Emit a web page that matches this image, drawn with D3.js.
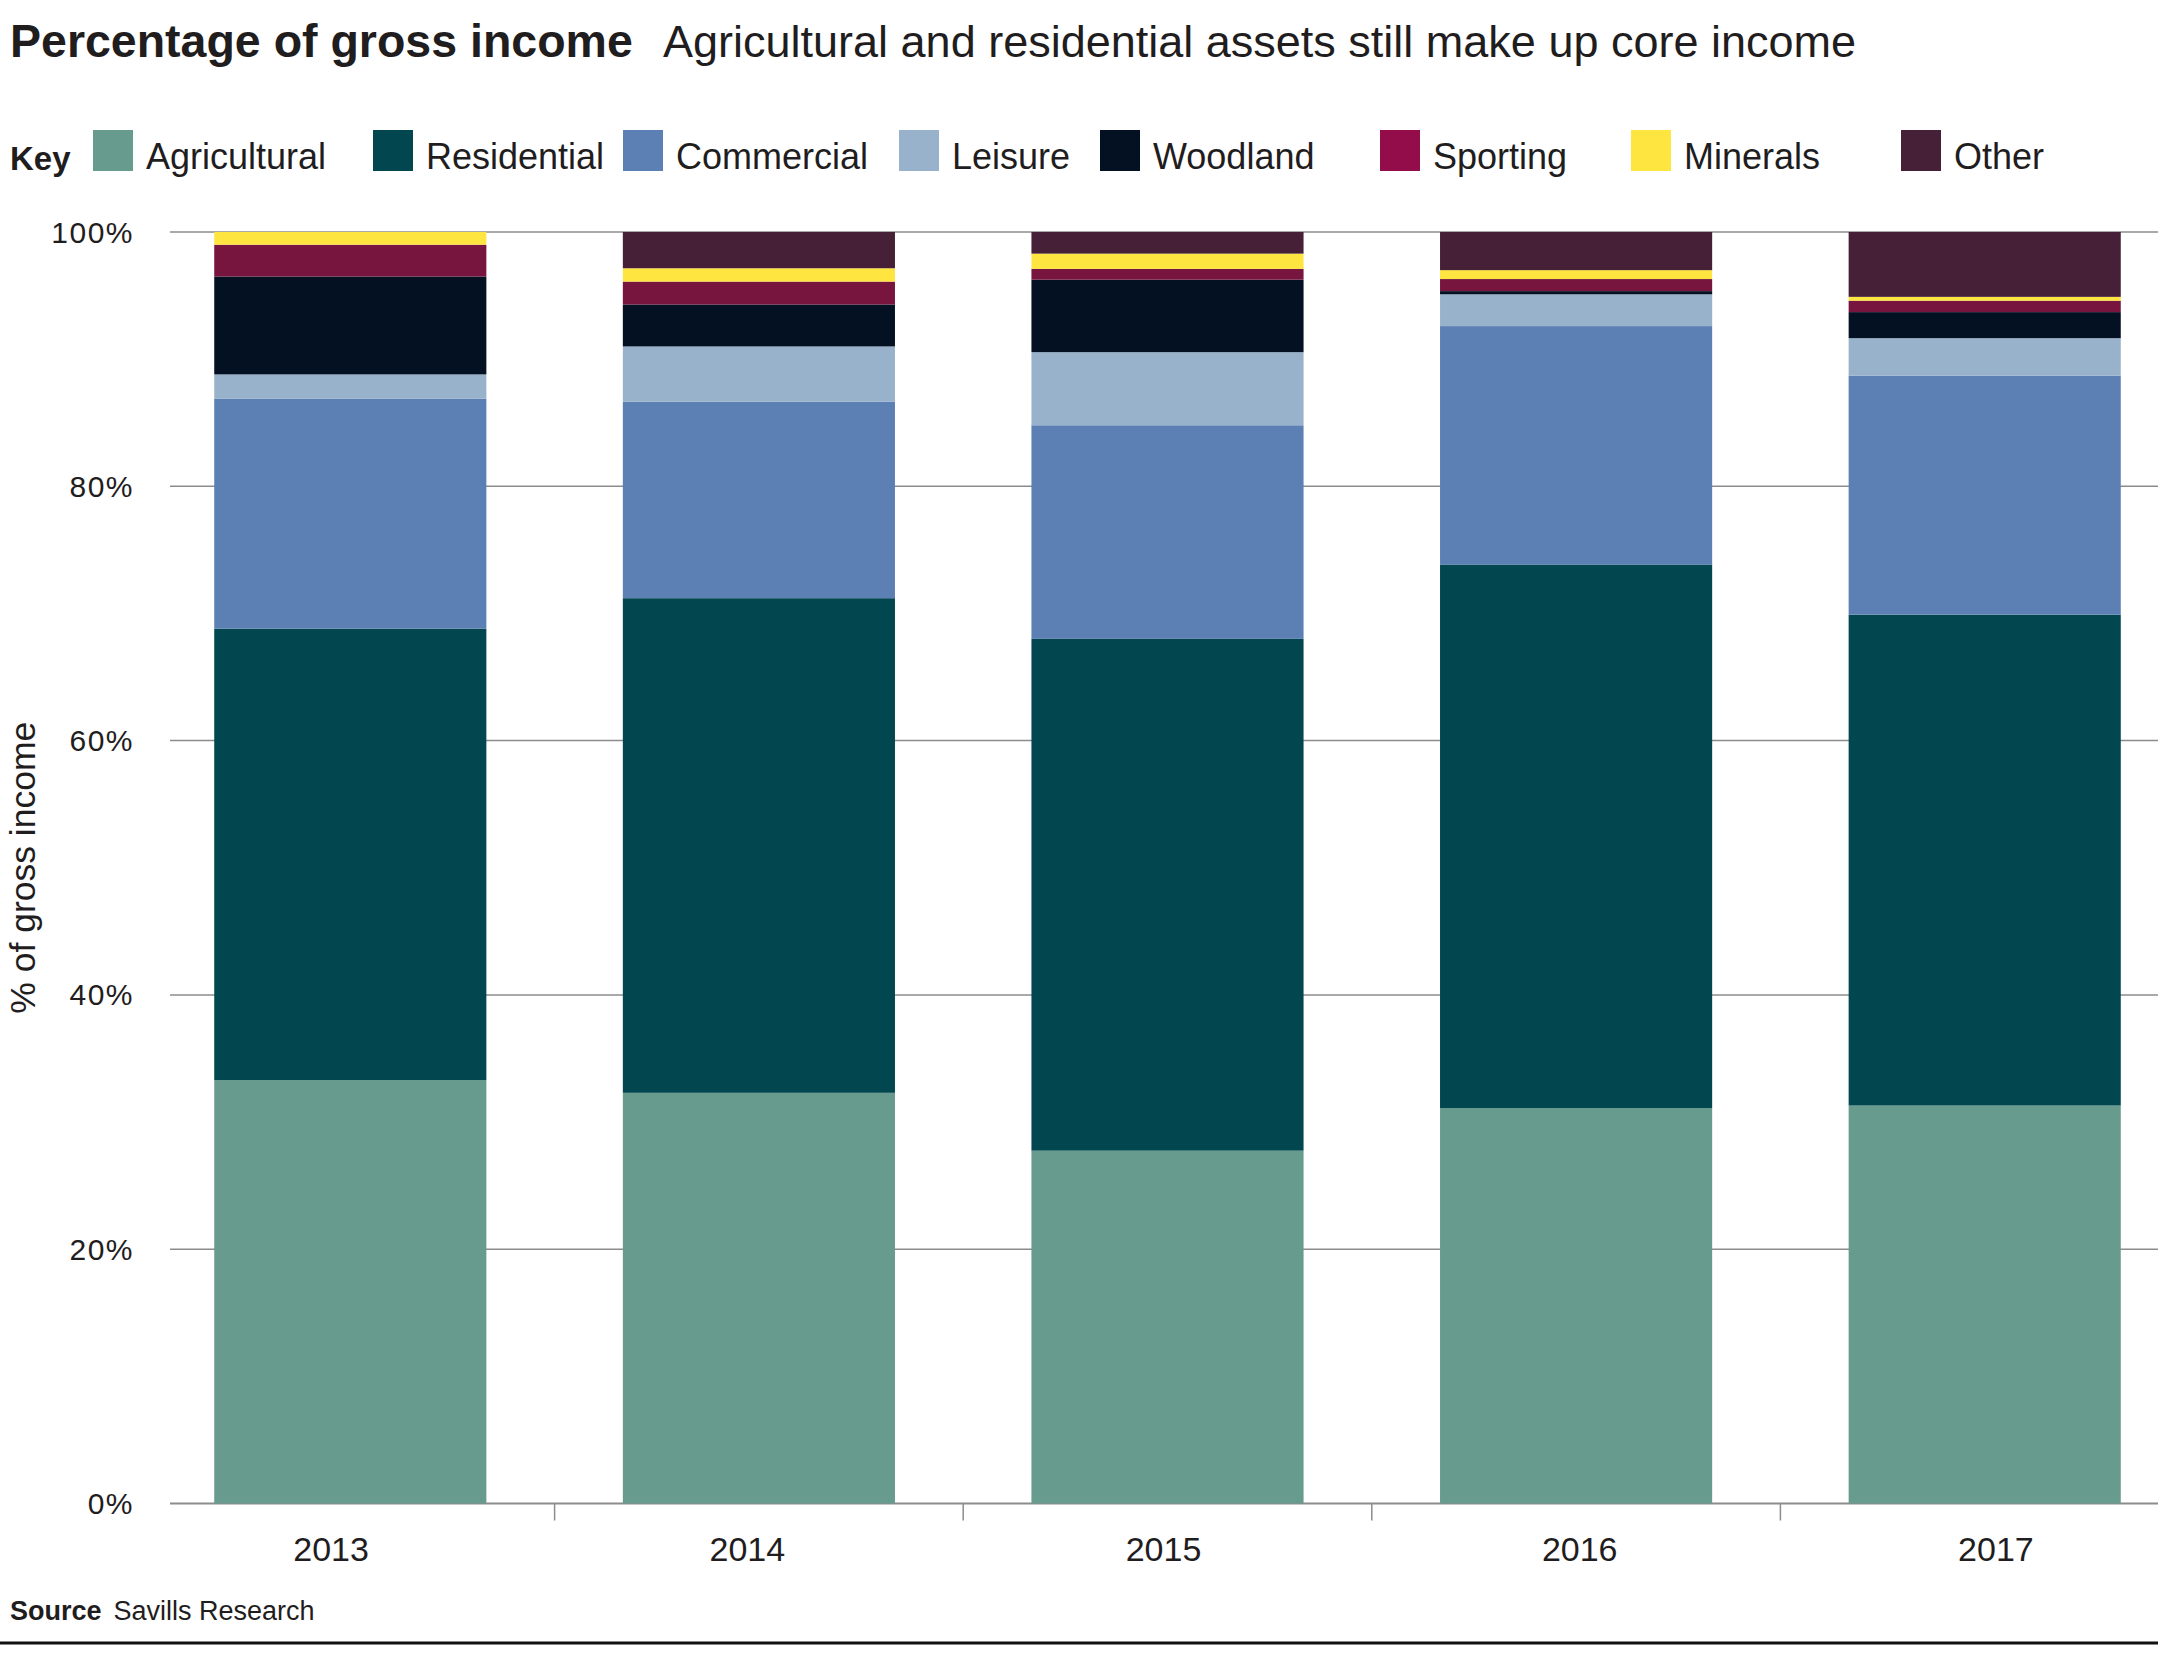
<!DOCTYPE html>
<html>
<head>
<meta charset="utf-8">
<script src="https://cdnjs.cloudflare.com/ajax/libs/d3/7.8.5/d3.min.js"></script>
<style>
  html, body { margin: 0; padding: 0; background: #ffffff; }
  svg { display: block; font-family: "Liberation Sans", Arial, Helvetica, sans-serif; }
</style>
</head>
<body>
<svg id="chart" width="2183" height="1659"></svg>
<script>
// ---------- data ----------
const years = ["2013", "2014", "2015", "2016", "2017"];
const seriesNames = ["Agricultural", "Residential", "Commercial", "Leisure", "Woodland", "Sporting", "Minerals", "Other"];
const agricultural = [33.3, 32.3, 27.75, 31.1, 31.3];
const residential  = [35.5, 38.9, 40.25, 42.75, 38.6];
const commercial   = [18.1, 15.45, 16.8, 18.75, 18.8];
const leisure      = [1.9, 4.35, 5.75, 2.5, 2.95];
const woodland     = [7.7, 3.3, 5.7, 0.25, 2.05];
const sporting     = [2.5, 1.8, 0.85, 0.95, 0.9];
const minerals     = [1.0, 1.05, 1.2, 0.7, 0.3];
const other        = [0.0, 2.85, 1.7, 3.0, 5.1];
const yTicks = [0, 20, 40, 60, 80, 100];
const colors = ["#679b8d", "#02474f", "#5c80b3", "#99b2cb", "#041122", "#78153f", "#fee540", "#462036"];
const legendColors = ["#679b8d", "#02474f", "#5c80b3", "#99b2cb", "#041122", "#930d4a", "#fee540", "#462036"];

const seriesValues = [agricultural, residential, commercial, leisure, woodland, sporting, minerals, other];
const table = years.map((y, i) => {
  const row = { year: y };
  seriesNames.forEach((n, j) => { row[n] = seriesValues[j][i]; });
  return row;
});

// ---------- layout ----------
const svg = d3.select("#chart");
const textColor = "#1f1d1e";
const plotLeft = 170, plotRight = 2158, plotTop = 232, plotBottom = 1503.5;

const x = d3.scaleBand().domain(years).range([146, 2189]).paddingInner(0.334).paddingOuter(0.167);
const xLabel = d3.scaleBand().domain(years).range([123, 2204]);
const y = d3.scaleLinear().domain([0, 100]).range([plotBottom, plotTop]);
const color = d3.scaleOrdinal().domain(seriesNames).range(colors);

svg.append("rect").attr("width", 2183).attr("height", 1659).attr("fill", "#fff");

// title
const title = svg.append("text").attr("x", 10).attr("y", 57).attr("fill", textColor);
title.append("tspan").attr("font-weight", "bold").attr("font-size", 46.5).text("Percentage of gross income");
title.append("tspan").attr("x", 663).attr("font-size", 45).attr("font-weight", 300).text("Agricultural and residential assets still make up core income");

// legend
svg.append("text").attr("x", 10).attr("y", 170).attr("font-size", 33).attr("font-weight", "bold").attr("fill", textColor).text("Key");
const legendX = [93, 373, 623, 899, 1100, 1380, 1631, 1901];
const lg = svg.append("g");
seriesNames.forEach((n, i) => {
  lg.append("rect").attr("x", legendX[i]).attr("y", 130).attr("width", 40).attr("height", 41).attr("fill", legendColors[i]);
  lg.append("text").attr("x", legendX[i] + 53).attr("y", 169).attr("font-size", 36).attr("fill", textColor).text(n);
});

// gridlines
svg.append("g").selectAll("line").data(yTicks).join("line")
  .attr("x1", plotLeft).attr("x2", plotRight)
  .attr("y1", d => y(d)).attr("y2", d => y(d))
  .attr("stroke", "#8c8c8c").attr("stroke-width", d => d === 0 ? 2 : 1.5);

// y tick labels
svg.append("g").selectAll("text").data(yTicks).join("text")
  .attr("x", 134).attr("y", d => y(d)).attr("dy", "0.35em")
  .attr("text-anchor", "end").attr("font-size", 30).attr("fill", textColor)
  .attr("letter-spacing", 1.5)
  .text(d => d + "%");

// y axis title
svg.append("text")
  .attr("transform", `translate(35,${(plotTop + plotBottom) / 2}) rotate(-90)`)
  .attr("text-anchor", "middle").attr("font-size", 35.5).attr("fill", textColor)
  .text("% of gross income");

// stacked bars
const stack = d3.stack().keys(seriesNames);
const stacked = stack(table);
svg.append("g").selectAll("g").data(stacked).join("g")
  .attr("fill", d => color(d.key))
  .selectAll("rect").data(d => d).join("rect")
  .attr("x", d => x(d.data.year))
  .attr("width", x.bandwidth())
  .attr("y", d => y(d[1]))
  .attr("height", d => Math.max(0, y(d[0]) - y(d[1])));

// x ticks at band boundaries
const boundaries = years.slice(1).map(yv => x(yv) - x.step() * x.paddingInner() / 2);
svg.append("g").selectAll("line").data(boundaries).join("line")
  .attr("x1", d => d).attr("x2", d => d)
  .attr("y1", plotBottom).attr("y2", plotBottom + 17)
  .attr("stroke", "#8c8c8c").attr("stroke-width", 1.5);

// x labels
svg.append("g").selectAll("text").data(years).join("text")
  .attr("x", d => xLabel(d) + xLabel.bandwidth() / 2)
  .attr("y", 1561).attr("text-anchor", "middle")
  .attr("font-size", 34).attr("fill", textColor).text(d => d);

// source
const src = svg.append("text").attr("x", 10).attr("y", 1620).attr("font-size", 27).attr("fill", textColor);
src.append("tspan").attr("font-weight", "bold").text("Source");
src.append("tspan").attr("dx", 12).text("Savills Research");

// bottom rule
svg.append("line").attr("x1", 0).attr("x2", 2158).attr("y1", 1643).attr("y2", 1643)
  .attr("stroke", "#111").attr("stroke-width", 3);
</script>
</body>
</html>
